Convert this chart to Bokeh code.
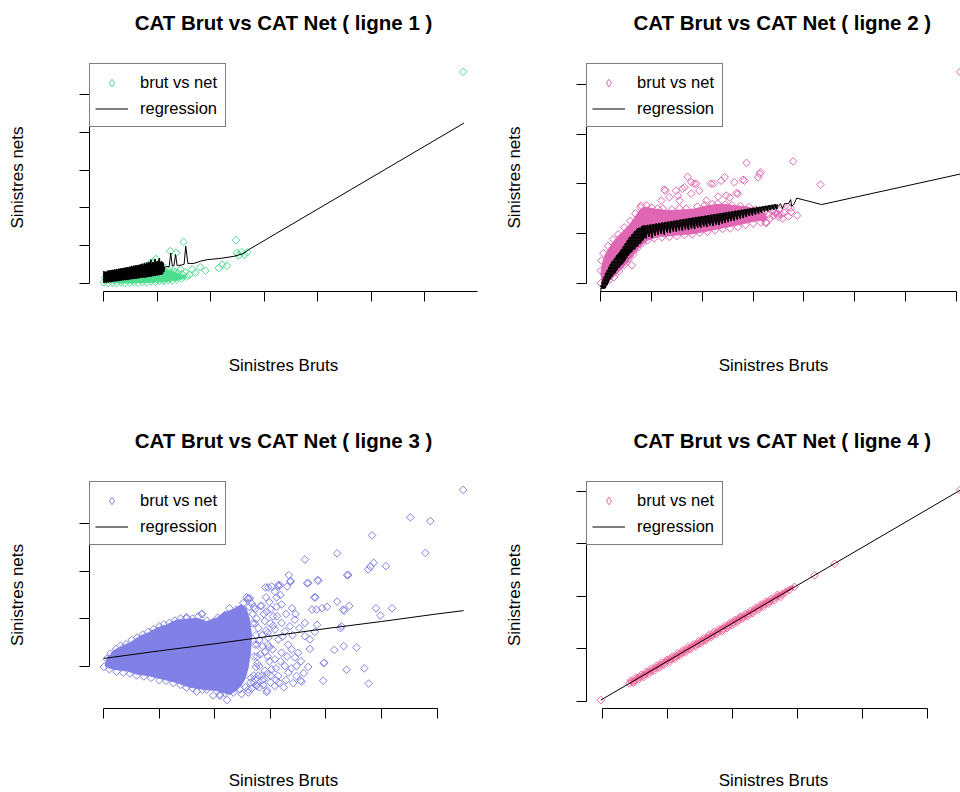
import numpy as np
from bokeh.plotting import figure
from bokeh.layouts import row, column
from bokeh.models import Range1d, FixedTicker, Legend, LegendItem, Title
from bokeh.embed import file_html
from bokeh.resources import INLINE

FONT = "Liberation Sans"

# ---------------- ligne 1 ----------------
l1_brut = [0.00, 0.08, 0.16, 0.24, 0.32, 0.40, 0.48, 0.56, 0.64, 0.72, 0.80, 0.88, 0.96, 1.04, 1.12, 1.20, 1.28, 1.36, 1.45,
           0.02, 0.10, 0.18, 0.26, 0.34, 0.42, 0.50, 0.58, 0.66, 0.74, 0.82, 0.90, 0.98, 1.06, 1.14, 1.22, 1.30, 1.38, 1.46, 1.55,
           1.49, 2.47, 1.24, 1.35, 0.97, 0.93, 0.77, 0.68, 1.09, 1.15, 1.24, 1.34, 1.43, 1.52, 1.60, 1.65, 1.71, 1.90, 1.80,
           1.12, 0.87, 2.15, 2.21, 2.30, 2.49, 2.58, 2.68, 2.52, 2.63, 1.05, 0.87, 6.715]
l1_net = [0.02, 0.00, 0.01, 0.00, 0.02, 0.00, 0.01, 0.03, 0.01, 0.03, 0.02, 0.05, 0.03, 0.06, 0.05, 0.08, 0.07, 0.10, 0.12,
          0.14, 0.17, 0.20, 0.22, 0.25, 0.28, 0.31, 0.33, 0.36, 0.38, 0.40, 0.42, 0.44, 0.42, 0.40, 0.34, 0.32, 0.27, 0.24, 0.17,
          1.09, 1.14, 0.85, 0.80, 0.64, 0.55, 0.45, 0.40, 0.36, 0.18, 0.27, 0.29, 0.36, 0.29, 0.22, 0.36, 0.27, 0.33, 0.42,
          0.09, 0.13, 0.40, 0.49, 0.46, 0.80, 0.82, 0.82, 0.73, 0.75, 0.50, 0.53, 5.61]
# envelope of the crowded small-claims area
l1_dense_brut = [0.00, 0.00, 0.20, 0.40, 0.60, 0.80, 1.00, 1.15, 1.30, 1.45, 1.55, 1.40, 1.20, 0.90, 0.60, 0.30]
l1_dense_net = [0.02, 0.12, 0.18, 0.24, 0.30, 0.36, 0.40, 0.36, 0.30, 0.22, 0.15, 0.08, 0.05, 0.02, 0.01, 0.00]
# fitted values: many claims share nearly the same gross amount at the low end
l1_fit_brut = [0.00, 0.02, 0.04, 0.06, 0.08, 0.10, 0.12, 0.14, 0.16, 0.18, 0.20, 0.22, 0.24, 0.26, 0.28, 0.30, 0.32, 0.34,
               0.36, 0.38, 0.40, 0.42, 0.44, 0.46, 0.48, 0.50, 0.52, 0.54, 0.56, 0.58, 0.60, 0.62, 0.64, 0.66, 0.68, 0.70,
               0.72, 0.74, 0.76, 0.78, 0.80, 0.82, 0.84, 0.86, 0.88, 0.90, 0.92, 0.94, 0.96, 0.98, 1.00, 1.02, 1.04, 1.06,
               1.08, 1.10, 1.12]
l1_fit_high = [0.32, 0.27, 0.30, 0.28, 0.33, 0.30, 0.34, 0.31, 0.35, 0.32, 0.36, 0.33, 0.37, 0.34, 0.38, 0.35, 0.39, 0.36,
               0.40, 0.37, 0.41, 0.38, 0.42, 0.39, 0.43, 0.40, 0.45, 0.41, 0.46, 0.42, 0.47, 0.43, 0.48, 0.44, 0.49, 0.45,
               0.51, 0.46, 0.52, 0.47, 0.54, 0.48, 0.56, 0.49, 0.62, 0.50, 0.55, 0.51, 0.64, 0.52, 0.58, 0.53, 0.66, 0.54,
               0.57, 0.55, 0.44]
l1_fit_low = [0.01, 0.03, 0.02, 0.04, 0.02, 0.05, 0.03, 0.05, 0.04, 0.06, 0.05, 0.07, 0.05, 0.08, 0.06, 0.08, 0.07, 0.09,
              0.08, 0.10, 0.08, 0.11, 0.09, 0.11, 0.10, 0.12, 0.11, 0.13, 0.11, 0.14, 0.12, 0.14, 0.13, 0.15, 0.14, 0.16,
              0.14, 0.17, 0.15, 0.17, 0.16, 0.18, 0.17, 0.19, 0.18, 0.20, 0.19, 0.21, 0.20, 0.22, 0.21, 0.23, 0.22, 0.24,
              0.23, 0.26, 0.30]
l1_tail_brut = [1.14, 1.18, 1.22, 1.25, 1.28, 1.31, 1.34, 1.37, 1.40, 1.46, 1.50, 1.53, 1.57, 1.62, 1.68, 1.80, 1.93, 2.20,
                2.43, 2.60, 2.71, 6.73]
l1_tail_net = [0.42, 0.44, 0.43, 0.80, 0.45, 0.46, 0.76, 0.46, 0.47, 0.48, 0.50, 0.98, 0.52, 0.52, 0.52, 0.58, 0.62, 0.66,
               0.71, 0.78, 0.89, 4.25]
l1_xticks = [0, 1, 2, 3, 4, 5, 6, 7]
l1_yticks = [0, 1, 2, 3, 4, 5]

# ---------------- ligne 2 ----------------
l2_brut = [0.00, 0.01, 0.05, 0.14, 0.24, 0.34, 0.46, 0.58, 0.68, 0.78, 0.90, 1.00, 1.12, 1.22, 1.40, 1.55, 1.68, 1.90, 2.05,
           2.20, 2.30, 2.45, 2.58, 2.75, 2.92, 3.05,
           0.00, 0.08, 0.16, 0.26, 0.36, 0.46, 0.55, 0.64, 0.72, 0.82, 0.92, 1.05, 1.20, 1.35, 1.50, 1.65, 1.80, 1.95, 2.10,
           2.25, 2.40, 2.55, 2.70, 2.85, 3.00, 3.15, 3.25,
           2.87, 3.79, 3.15, 3.10, 4.33, 1.71, 1.27, 2.37, 2.44, 2.83, 2.80, 2.22, 1.84, 1.88, 1.65, 1.78, 2.17, 2.63, 3.13,
           1.19, 1.48, 1.61, 1.94, 1.78, 1.25, 2.67, 2.54, 1.35, 1.52, 1.55, 2.08, 2.31, 2.47, 2.70, 0.79, 0.61, 3.87, 3.75,
           3.69, 3.26, 3.49, 3.74, 3.70, 3.43, 3.06, 3.23, 3.40, 3.45, 3.50, 3.55, 3.58, 3.38, 3.52, 3.60, 3.33, 3.30, 3.20,
           3.15, 7.08]
l2_net = [0.25, 0.45, 0.60, 0.75, 0.88, 0.98, 1.12, 1.25, 1.40, 1.52, 1.56, 1.52, 1.50, 1.50, 1.48, 1.50, 1.50, 1.54, 1.57,
          1.59, 1.60, 1.58, 1.57, 1.55, 1.53, 1.48,
          0.00, 0.02, 0.06, 0.12, 0.24, 0.36, 0.48, 0.58, 0.70, 0.80, 0.86, 0.90, 0.92, 0.93, 0.95, 0.97, 0.98, 1.01, 1.03,
          1.06, 1.09, 1.10, 1.13, 1.17, 1.20, 1.22, 1.22,
          2.42, 2.45, 2.23, 2.13, 1.98, 2.14, 1.86, 2.06, 2.13, 2.06, 2.08, 2.00, 2.00, 2.00, 1.93, 2.03, 2.00, 2.03, 2.20,
          1.66, 1.86, 1.90, 1.86, 1.80, 1.88, 1.81, 1.72, 1.73, 1.76, 1.66, 1.66, 1.74, 1.76, 1.80, 1.56, 0.36, 1.36, 1.43,
          1.53, 1.21, 1.39, 1.51, 1.34, 1.43, 1.33, 1.43, 1.35, 1.40, 1.33, 1.38, 1.30, 1.45, 1.47, 1.42, 1.30, 1.38, 1.30,
          1.36, 4.25]
l2_dense_brut = [0.03, 0.00, 0.03, 0.10, 0.22, 0.32, 0.42, 0.55, 0.65, 0.76, 0.88, 1.05, 1.32, 1.58, 1.84, 2.11, 2.37, 2.63,
                 2.90, 3.10, 3.25, 3.25, 3.10, 2.94, 2.75, 2.44, 2.11, 1.78, 1.45, 1.12, 0.92, 0.77, 0.64, 0.51, 0.38,
                 0.25, 0.13]
l2_dense_net = [0.00, 0.19, 0.40, 0.60, 0.79, 0.92, 1.02, 1.16, 1.29, 1.46, 1.53, 1.49, 1.46, 1.47, 1.49, 1.56, 1.59, 1.56,
                1.53, 1.46, 1.40, 1.26, 1.26, 1.23, 1.18, 1.12, 1.05, 0.99, 0.96, 0.93, 0.86, 0.73, 0.56, 0.39, 0.26,
                0.12, 0.02]
# fitted values, steep part: spread of gross amounts for each fitted level
l2_steep_net = [-0.10, -0.07, -0.04, -0.01, 0.02, 0.05, 0.08, 0.11, 0.14, 0.17, 0.20, 0.23, 0.26, 0.29, 0.32, 0.35, 0.38,
                0.41, 0.44, 0.47, 0.50, 0.53, 0.56, 0.59, 0.62, 0.65, 0.68, 0.71, 0.74, 0.77, 0.80, 0.83, 0.86, 0.89,
                0.92, 0.95, 0.98, 1.01, 1.04, 1.07, 1.10]
l2_steep_left = [0.00, 0.00, 0.01, 0.02, 0.03, 0.04, 0.05, 0.06, 0.08, 0.09, 0.10, 0.12, 0.13, 0.15, 0.16, 0.18, 0.19,
                 0.21, 0.23, 0.26, 0.28, 0.30, 0.32, 0.35, 0.37, 0.39, 0.41, 0.43, 0.45, 0.47, 0.49, 0.51, 0.53, 0.55,
                 0.57, 0.60, 0.62, 0.65, 0.67, 0.70, 0.74]
l2_steep_right = [0.08, 0.10, 0.12, 0.13, 0.15, 0.16, 0.18, 0.20, 0.22, 0.24, 0.27, 0.29, 0.31, 0.33, 0.36, 0.38, 0.41,
                  0.44, 0.46, 0.48, 0.50, 0.52, 0.54, 0.56, 0.59, 0.62, 0.65, 0.68, 0.71, 0.74, 0.77, 0.80, 0.82, 0.84,
                  0.86, 0.88, 0.88, 0.88, 0.86, 0.85, 0.83]
# fitted values, flat part: highest and lowest fitted value at each gross amount
l2_flat_brut = [0.80, 0.83, 0.86, 0.89, 0.92, 0.95, 0.98, 1.01, 1.04, 1.07, 1.10, 1.13, 1.16, 1.19, 1.22, 1.25, 1.28, 1.31,
                1.34, 1.37, 1.40, 1.43, 1.46, 1.49, 1.52, 1.55, 1.58, 1.61, 1.64, 1.67, 1.70, 1.73, 1.76, 1.79, 1.82, 1.85,
                1.88, 1.91, 1.94, 1.97, 2.00, 2.03, 2.06, 2.09, 2.12, 2.15, 2.18, 2.21, 2.24, 2.27, 2.30, 2.33, 2.36, 2.39,
                2.42, 2.45, 2.48, 2.51, 2.54, 2.57, 2.60, 2.63, 2.66, 2.69, 2.72, 2.75, 2.78, 2.81, 2.84, 2.87, 2.90, 2.93,
                2.96, 2.99, 3.02, 3.05, 3.08, 3.11, 3.14, 3.17, 3.20, 3.23, 3.26, 3.29, 3.32, 3.35, 3.38, 3.41, 3.44, 3.47]
l2_flat_high = [1.14, 1.15, 1.15, 1.15, 1.16, 1.16, 1.17, 1.17, 1.18, 1.18, 1.19, 1.19, 1.20, 1.20, 1.21, 1.21, 1.22, 1.22,
                1.23, 1.23, 1.24, 1.24, 1.25, 1.25, 1.26, 1.26, 1.27, 1.27, 1.28, 1.28, 1.29, 1.29, 1.30, 1.30, 1.31, 1.31,
                1.32, 1.32, 1.33, 1.33, 1.34, 1.34, 1.35, 1.35, 1.36, 1.36, 1.37, 1.37, 1.38, 1.38, 1.39, 1.39, 1.40, 1.40,
                1.41, 1.41, 1.42, 1.42, 1.43, 1.43, 1.44, 1.44, 1.45, 1.45, 1.46, 1.46, 1.47, 1.47, 1.48, 1.48, 1.49, 1.49,
                1.50, 1.50, 1.51, 1.51, 1.52, 1.52, 1.53, 1.53, 1.54, 1.54, 1.55, 1.55, 1.56, 1.56, 1.57, 1.57, 1.58, 1.58]
l2_flat_low = [1.00, 0.88, 1.02, 0.90, 1.03, 0.93, 1.05, 0.91, 1.05, 0.95, 1.07, 0.97, 1.08, 0.99, 1.09, 0.98, 1.10, 1.02,
               1.11, 1.01, 1.12, 1.04, 1.13, 1.03, 1.14, 1.06, 1.15, 1.05, 1.16, 1.08, 1.17, 1.07, 1.18, 1.10, 1.19, 1.09,
               1.20, 1.12, 1.21, 1.11, 1.22, 1.14, 1.23, 1.13, 1.24, 1.16, 1.25, 1.15, 1.26, 1.18, 1.27, 1.17, 1.28, 1.20,
               1.29, 1.21, 1.31, 1.23, 1.32, 1.25, 1.33, 1.26, 1.35, 1.28, 1.36, 1.30, 1.38, 1.31, 1.39, 1.33, 1.40, 1.35,
               1.42, 1.36, 1.43, 1.38, 1.45, 1.40, 1.46, 1.42, 1.48, 1.44, 1.49, 1.45, 1.50, 1.47, 1.52, 1.48, 1.53, 1.49]
l2_tail_brut = [3.50, 3.54, 3.58, 3.62, 3.70, 3.74, 3.76, 3.80, 3.86, 4.35, 7.15]
l2_tail_net = [1.55, 1.60, 1.50, 1.60, 1.60, 1.68, 1.55, 1.58, 1.71, 1.58, 2.21]
l2_xticks = [0, 1, 2, 3, 4, 5, 6, 7]
l2_yticks = [0, 1, 2, 3, 4]

# ---------------- ligne 3 ----------------
l3_brut = [0.05, 0.12, 0.22, 0.30, 0.40, 0.50, 0.60, 0.70, 0.80, 0.90, 1.00, 1.08, 1.18, 1.28, 1.38, 1.49, 1.60, 1.70, 1.76,
           1.85, 1.97, 2.05, 2.18, 2.26, 2.39, 2.45, 2.51, 2.57, 2.66, 2.60, 2.72,
           0.00, 0.10, 0.23, 0.35, 0.47, 0.59, 0.72, 0.85, 1.00, 1.12, 1.25, 1.38, 1.49, 1.60, 1.67, 1.78, 1.85, 1.97, 2.09,
           2.18, 2.22, 2.33, 2.45, 2.48, 2.60, 2.66, 2.75, 2.85, 2.93,
           2.84, 2.91, 2.90, 2.95, 2.98, 2.98, 2.95, 2.88,
           6.47, 5.52, 5.88, 4.83, 5.79, 4.20, 3.62, 4.86, 4.76, 4.80, 5.08, 4.38, 3.33, 3.36, 3.85, 3.66, 3.02, 3.15, 3.30,
           3.08, 3.18, 3.81, 4.20, 4.42, 4.31, 4.02, 3.93, 4.90, 5.19, 4.98, 3.75, 3.39, 3.11, 2.60, 4.28, 3.84, 3.62, 4.15,
           4.32, 4.55, 3.71, 3.97, 3.68, 4.37, 4.69, 3.95, 4.77, 3.54, 3.41, 3.24, 3.08, 2.94, 3.47, 3.44, 3.50, 3.71, 3.62,
           3.44, 3.35, 3.20, 3.26, 3.08, 3.14, 3.32, 3.38, 3.20, 3.08, 3.26, 3.14, 3.32, 3.02, 3.47, 2.72, 2.84, 2.75, 2.60,
           2.09, 3.56, 3.80, 4.26, 3.96, 4.33, 3.83, 3.79, 3.86, 4.40, 3.14, 2.63, 2.82, 2.93, 3.11, 1.77, 1.49, 2.96, 2.90,
           2.95, 3.00, 3.05, 2.98, 3.10, 2.85, 3.00, 2.80, 3.17, 3.36, 3.68,
           2.70, 2.75, 2.78, 2.80, 2.82, 2.80, 2.78, 2.70, 2.88, 2.92, 2.95, 2.90, 2.86, 2.96, 3.04, 3.05, 3.12, 3.00, 2.92,
           3.20, 3.28, 3.10, 3.18, 3.22, 3.30, 3.28, 3.40, 3.45, 3.52, 3.55, 3.60, 3.38, 2.87, 3.00, 3.15, 2.68, 2.72, 2.76,
           2.65, 2.70,
           2.62, 2.68, 2.72, 2.74, 2.76, 2.76, 2.74, 2.70, 2.64, 2.55]
l3_net = [0.15, 0.26, 0.36, 0.43, 0.46, 0.55, 0.60, 0.66, 0.72, 0.78, 0.84, 0.88, 0.91, 0.96, 1.00, 1.03, 1.00, 1.05, 1.10,
          0.96, 0.93, 1.02, 1.08, 1.22, 1.19, 1.12, 1.33, 1.45, 1.32, 1.42, 1.20,
          -0.02, -0.07, -0.12, -0.14, -0.16, -0.20, -0.22, -0.25, -0.30, -0.31, -0.36, -0.40, -0.46, -0.47, -0.54, -0.50,
          -0.50, -0.62, -0.60, -0.57, -0.72, -0.56, -0.49, -0.59, -0.50, -0.48, -0.40, -0.30, -0.55,
          1.27, 1.66, 0.95, 0.70, 0.40, 0.10, -0.15, -0.28,
          3.72, 3.14, 3.06, 2.76, 2.39, 2.38, 2.25, 2.18, 2.04, 2.10, 2.11, 1.92, 1.92, 1.80, 1.82, 1.75, 1.68, 1.68, 1.68,
          1.57, 1.50, 1.45, 1.36, 1.27, 1.19, 1.25, 1.22, 1.22, 1.22, 1.07, 1.19, 1.22, 1.25, 1.43, 0.84, 0.87, 0.91, 0.34,
          0.42, 0.39, 0.36, 0.07, -0.02, -0.08, -0.05, -0.31, -0.37, -0.31, -0.36, -0.45, -0.42, -0.52, 0.00, 0.18, 0.28,
          0.56, 0.63, 0.98, 0.84, 0.91, 0.73, 0.77, 0.56, 0.45, 0.35, 0.28, 0.14, 0.00, -0.21, -0.14, -0.07, -0.21, -0.28,
          -0.21, -0.42, -0.56, -0.63, -0.33, 0.72, 0.80, 0.06, 1.17, 1.19, 1.45, 1.80, 1.92, 1.71, 1.43, 1.27, 1.15, 1.45,
          1.10, 1.01, 1.66, 0.30, 0.45, 0.90, 1.05, 1.35, -0.30, 0.65, -0.20, -0.45, 1.71, 1.78, 1.75,
          1.25, 1.00, 0.80, 0.55, 0.25, 0.00, -0.20, -0.35, 1.10, 0.75, 0.20, -0.10, 0.42, 0.60, 0.35, 0.85, 1.05, 1.20, 1.45,
          1.30, 1.10, -0.05, 0.10, 0.62, 0.20, -0.30, 0.65, 1.10, 0.80, 0.10, -0.15, -0.05, -0.40, -0.35, -0.35, 0.90, 0.45,
          0.05, -0.25, 0.20,
          1.25, 1.10, 0.90, 0.65, 0.45, 0.20, -0.02, -0.20, -0.35, -0.45]
l3_dense_brut = [0.03, 0.06, 0.17, 0.32, 0.47, 0.65, 0.80, 0.95, 1.13, 1.31, 1.43, 1.67, 1.85, 2.03, 2.15, 2.33, 2.48, 2.56,
                 2.62, 2.66, 2.64, 2.60, 2.55, 2.48, 2.40, 2.27, 2.03, 1.79, 1.55, 1.31, 1.07, 0.83, 0.59, 0.41,
                 0.17, 0.03]
l3_dense_net = [0.06, 0.16, 0.32, 0.42, 0.49, 0.63, 0.70, 0.80, 0.87, 0.97, 0.98, 1.01, 0.94, 1.01, 1.12, 1.19, 1.30, 1.22,
                1.00, 0.65, 0.30, -0.02, -0.25, -0.40, -0.50, -0.60, -0.52, -0.49, -0.45, -0.35, -0.28, -0.21,
                -0.17, -0.10, -0.07, -0.01]
l3_reg_brut = [0.00, 1.00, 2.00, 3.00, 4.00, 5.00, 6.00, 6.48]
l3_reg_net = [0.16, 0.32, 0.47, 0.63, 0.79, 0.94, 1.10, 1.17]
l3_xticks = [0, 1, 2, 3, 4, 5, 6]
l3_yticks = [0, 1, 2, 3]

# ---------------- ligne 4 ----------------
l4_brut = [-0.03,
           0.41, 0.45, 0.49, 0.53, 0.57, 0.61, 0.65, 0.69, 0.73, 0.77, 0.81, 0.85, 0.89, 0.93, 0.97, 1.01, 1.05, 1.09,
           1.13, 1.17, 1.21, 1.25, 1.29, 1.33, 1.37, 1.41, 1.45, 1.49, 1.53, 1.57, 1.61, 1.65, 1.69, 1.73, 1.77, 1.81,
           1.85, 1.89, 1.93, 1.97, 2.01, 2.05, 2.09, 2.13, 2.17, 2.21, 2.25, 2.29, 2.33, 2.37, 2.41, 2.45, 2.49, 2.53,
           2.57, 2.62, 2.67, 2.71, 2.76, 2.81, 2.87, 2.95,
           0.43, 0.47, 0.51, 0.55, 0.59, 0.63, 0.67, 0.71, 0.75, 0.79, 0.83, 0.87, 0.91, 0.95, 0.99, 1.03, 1.07, 1.11,
           1.15, 1.19, 1.23, 1.27, 1.31, 1.35, 1.39, 1.43, 1.47, 1.51, 1.55, 1.59, 1.63, 1.67, 1.71, 1.75, 1.79, 1.83,
           1.87, 1.91, 1.95, 1.99, 2.03, 2.07, 2.11, 2.15, 2.19, 2.23, 2.27, 2.31, 2.35, 2.39, 2.43, 2.47, 2.51, 2.55,
           2.59, 2.64, 2.69, 2.74,
           3.26, 3.57, 5.50]
l4_net = [0.02,
          0.34, 0.37, 0.39, 0.43, 0.46, 0.48, 0.51, 0.55, 0.57, 0.60, 0.63, 0.66, 0.69, 0.71, 0.75, 0.78, 0.80, 0.83,
          0.86, 0.89, 0.92, 0.95, 0.98, 1.00, 1.04, 1.06, 1.09, 1.12, 1.15, 1.18, 1.21, 1.24, 1.27, 1.29, 1.33, 1.35,
          1.38, 1.41, 1.44, 1.47, 1.50, 1.53, 1.56, 1.59, 1.61, 1.64, 1.67, 1.70, 1.73, 1.76, 1.79, 1.82, 1.85, 1.88,
          1.90, 1.94, 1.98, 2.01, 2.04, 2.08, 2.12, 2.18,
          0.39, 0.35, 0.45, 0.41, 0.50, 0.46, 0.56, 0.52, 0.62, 0.58, 0.68, 0.64, 0.74, 0.70, 0.79, 0.75, 0.85, 0.81,
          0.91, 0.87, 0.97, 0.93, 1.03, 0.99, 1.08, 1.04, 1.14, 1.10, 1.20, 1.16, 1.26, 1.22, 1.32, 1.28, 1.37, 1.33,
          1.43, 1.39, 1.49, 1.45, 1.55, 1.51, 1.61, 1.57, 1.66, 1.62, 1.72, 1.68, 1.78, 1.74, 1.84, 1.80, 1.90, 1.86,
          1.95, 1.92, 2.03, 1.99,
          2.40, 2.62, 4.03]
l4_dense_brut = [0.43, 2.93, 2.93, 0.43]
l4_dense_net = [0.33, 2.15, 2.21, 0.39]
l4_reg_brut = [-0.03, 5.55]
l4_reg_net = [0.02, 4.06]
l4_xticks = [0, 1, 2, 3, 4, 5]
l4_yticks = [0, 1, 2, 3, 4]

LEFT, TOP, FRAME_W = 89, 63, 388


def vertical_strokes(xs, highs, lows):
    """Path visiting high/low fitted values alternately at each gross amount."""
    px, py = [], []
    for k, (x, hi, lo) in enumerate(zip(xs, highs, lows)):
        px += [x, x]
        py += [hi, lo] if k % 2 == 0 else [lo, hi]
    return px, py


def horizontal_strokes(ys, lefts, rights):
    """Path visiting smallest/largest gross amount alternately at each fitted level."""
    px, py = [], []
    for k, (y, lo, hi) in enumerate(zip(ys, lefts, rights)):
        px += [lo, hi] if k % 2 == 0 else [hi, lo]
        py += [y, y]
    return px, py


def panel(title, color, brut, net, dense_brut, dense_net, reg_brut, reg_net,
          xticks, yticks, width, height, right_border, title_offset=None,
          crowded_fits=(), xlabel_standoff=54):
    # R-style axis limits: data range widened by 4 % on each side
    xmin, xmax = min(brut), max(brut)
    ymin, ymax = min(net), max(net)
    dx, dy = 0.04 * (xmax - xmin), 0.04 * (ymax - ymin)
    x0, x1 = xmin - dx, xmax + dx
    frame_w = width - LEFT - right_border
    x1 = x0 + (x1 - x0) * frame_w / FRAME_W
    bottom = height - TOP - 228

    p = figure(width=width, height=height, output_backend="svg", toolbar_location=None,
               x_range=Range1d(x0, x1), y_range=Range1d(ymin - dy, ymax + dy),
               min_border_left=LEFT, min_border_right=right_border,
               min_border_top=TOP, min_border_bottom=bottom,
               background_fill_color="white", border_fill_color="white")
    p.outline_line_color = None
    p.xgrid.visible = False
    p.ygrid.visible = False

    p.title.text = title
    p.title.text_font = FONT
    p.title.text_font_style = "bold"
    p.title.text_font_size = "20.5px"
    p.title.text_color = "black"
    p.title.standoff = 12
    if title_offset is None:
        p.title.align = "center"
    else:
        p.title.align = "left"
        p.title.offset = title_offset
    # empty band between the title and the plotting area
    p.add_layout(Title(text=" ", text_font_size="14px", standoff=6), "above")

    for ax, ticks, lab, st in ((p.xaxis[0], xticks, "Sinistres Bruts", xlabel_standoff),
                               (p.yaxis[0], yticks, "Sinistres nets", 53)):
        ax.ticker = FixedTicker(ticks=ticks)
        ax.bounds = (ticks[0], ticks[-1])
        ax.major_label_text_font_size = "0px"
        ax.major_label_text_color = None
        ax.major_label_standoff = 0
        ax.minor_tick_line_color = None
        ax.major_tick_in = 0
        ax.major_tick_out = 10
        ax.major_tick_line_color = "black"
        ax.axis_line_color = "black"
        ax.axis_label = lab
        ax.axis_label_text_font = FONT
        ax.axis_label_text_font_style = "normal"
        ax.axis_label_text_font_size = "17px"
        ax.axis_label_text_color = "black"
        ax.axis_label_standoff = st

    if dense_brut is not None:
        p.patch(dense_brut, dense_net, fill_color=color, line_color=color, line_width=1)
    p.scatter(brut, net, marker="square", angle=np.pi / 4, size=5.4,
              fill_color=None, line_color=color, line_width=1)
    reg = p.line(reg_brut, reg_net, line_color="black", line_width=1)
    # where hundreds of fitted values overlap, the strokes merge into a solid band
    for cx, cy in crowded_fits:
        p.line(cx, cy, line_color="black", line_width=1.3)
    # legend key for the point cloud (no position of its own)
    key = p.scatter([np.nan], [np.nan], marker="diamond", fill_color=None, line_color=color, line_width=1)

    legend = Legend(items=[LegendItem(label="brut vs net", renderers=[key]),
                           LegendItem(label="regression", renderers=[reg])],
                    location="top_left", margin=0, padding=5, spacing=0,
                    glyph_width=33, glyph_height=19, label_height=26, label_width=80,
                    label_standoff=12,
                    label_text_font=FONT, label_text_font_size="16.5px", label_text_color="black",
                    border_line_color="black", border_line_width=1,
                    background_fill_color="white", background_fill_alpha=1.0)
    p.add_layout(legend)
    return p


# regression paths
l1_cx, l1_cy = vertical_strokes(l1_fit_brut, l1_fit_high, l1_fit_low)
l1_reg_brut, l1_reg_net = l1_cx + l1_tail_brut, l1_cy + l1_tail_net

l2_sx, l2_sy = horizontal_strokes(l2_steep_net, l2_steep_left, l2_steep_right)
l2_cx, l2_cy = vertical_strokes(l2_flat_brut, l2_flat_high, l2_flat_low)
l2_reg_brut = [0.00] + l2_sx + l2_cx + l2_tail_brut
l2_reg_net = [-0.18] + l2_sy + l2_cy + l2_tail_net

p1 = panel("CAT Brut vs CAT Net ( ligne 1 )", "#4EDD8E", l1_brut, l1_net, l1_dense_brut, l1_dense_net,
           l1_reg_brut, l1_reg_net, l1_xticks, l1_yticks, 497, 418, 20,
           crowded_fits=[(l1_cx, l1_cy)])
p2 = panel("CAT Brut vs CAT Net ( ligne 2 )", "#E066B4", l2_brut, l2_net, l2_dense_brut, l2_dense_net,
           l2_reg_brut, l2_reg_net, l2_xticks, l2_yticks, 463, 418, 0, title_offset=47,
           crowded_fits=[(l2_sx, l2_sy), (l2_cx, l2_cy)])
p3 = panel("CAT Brut vs CAT Net ( ligne 3 )", "#8080E6", l3_brut, l3_net, l3_dense_brut, l3_dense_net,
           l3_reg_brut, l3_reg_net, l3_xticks, l3_yticks, 497, 374, 20, xlabel_standoff=52)
p4 = panel("CAT Brut vs CAT Net ( ligne 4 )", "#F0669A", l4_brut, l4_net, l4_dense_brut, l4_dense_net,
           l4_reg_brut, l4_reg_net, l4_xticks, l4_yticks, 463, 374, 0, title_offset=47, xlabel_standoff=52)

layout = column(row(p1, p2), row(p3, p4))
open("out.html", "w").write(file_html(layout, INLINE))
